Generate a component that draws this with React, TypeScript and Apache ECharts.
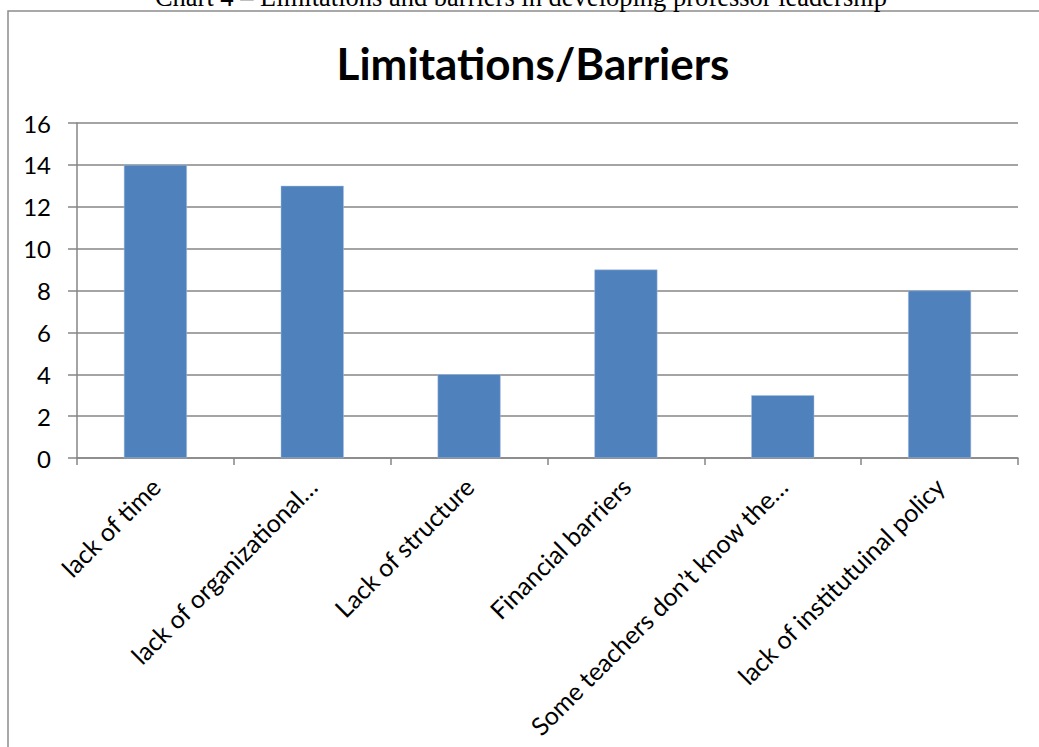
import React, { useEffect, useRef } from "react";
import * as echarts from "echarts";

const categories = [
  "lack of time",
  "lack of organizational…",
  "Lack of structure",
  "Financial barriers",
  "Some teachers don’t know the…",
  "lack of institutuinal policy",
];
const values = [14, 13, 4, 9, 3, 8];
const yTicks = { min: 0, max: 16, interval: 2 };
const chartTitle = "Limitations/Barriers";
const caption = "Chart 4 – Limitations and barriers in developing professor leadership";

export default function App() {
  const ref = useRef<HTMLDivElement>(null);
  useEffect(() => {
    if (!ref.current) return;
    const chart = echarts.init(ref.current, null, { renderer: "svg" });
    const font = "Lato, 'Open Sans', sans-serif";
    chart.setOption({
      animation: false,
      backgroundColor: "#ffffff",
      graphic: [
        {
          type: "rect",
          shape: { x: 8, y: 11, width: 1100, height: 800 },
          style: { fill: "none", stroke: "#8c8c8c", lineWidth: 1.5 },
          silent: true,
        },
        {
          type: "text",
          x: 521,
          y: 10,
          style: {
            text: caption,
            font: "26.5px 'Liberation Serif', 'Times New Roman', serif",
            fill: "#000",
            textAlign: "center",
            textVerticalAlign: "bottom",
          },
        },
      ],
      title: {
        text: chartTitle,
        left: 528,
        textAlign: "center",
        top: 36,
        textStyle: { fontFamily: font, fontWeight: "bold", fontSize: 44, color: "#000" },
      },
      grid: { left: 77, right: 21, top: 123, bottom: 289, containLabel: false },
      xAxis: {
        type: "category",
        data: categories,
        axisLine: { lineStyle: { color: "#868686", width: 1.5 } },
        axisTick: { show: true, length: 7, lineStyle: { color: "#868686", width: 1.5 } },
        axisLabel: {
          rotate: 45,
          interval: 0,
          margin: 24,
          fontFamily: font,
          fontSize: 25,
          color: "#000",
        },
      },
      yAxis: {
        type: "value",
        min: yTicks.min,
        max: yTicks.max,
        interval: yTicks.interval,
        axisLine: { show: true, lineStyle: { color: "#868686", width: 1.5 } },
        axisTick: { show: true, length: 9, lineStyle: { color: "#868686", width: 1.5 } },
        splitLine: { lineStyle: { color: "#868686", width: 1.5 } },
        axisLabel: { fontFamily: font, fontSize: 24, color: "#000", margin: 26 },
      },
      series: [
        {
          type: "bar",
          data: values,
          barWidth: 63,
          itemStyle: { color: "#4F81BD", borderColor: "#a9c0df", borderWidth: 0.5 },
        },
      ],
    });
    return () => chart.dispose();
  }, []);
  return (
    <div
      ref={ref}
      style={{ position: "absolute", left: 0, top: 0, width: 1039, height: 747 }}
    />
  );
}
